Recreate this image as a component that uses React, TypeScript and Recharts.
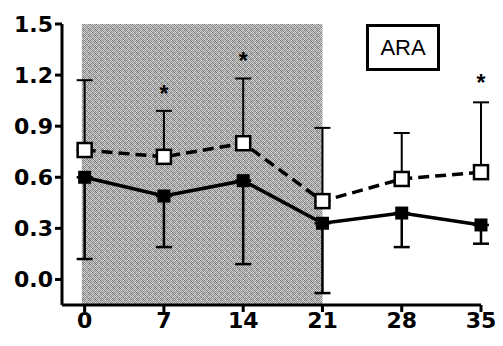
import React from 'react';
import { ComposedChart, Line, Scatter, XAxis, YAxis, ReferenceArea, ErrorBar } from 'recharts';

const days = [0, 7, 14, 21, 28, 35];
const openMean = [0.76, 0.72, 0.8, 0.46, 0.59, 0.63];
const openUpper = [1.17, 0.99, 1.18, 0.89, 0.86, 1.04];
const filledMean = [0.6, 0.49, 0.58, 0.33, 0.39, 0.32];
const filledLower = [0.12, 0.19, 0.09, -0.08, 0.19, 0.21];
const starDays = [7, 14, 35];
const starY = [1.12, 1.31, 1.18];
const yTicks = [0, 0.3, 0.6, 0.9, 1.2, 1.5];

const data = days.map((d, i) => ({
    day: d,
    open: openMean[i],
    openErr: [0, +(openUpper[i] - openMean[i]).toFixed(2)],
    filled: filledMean[i],
    filledErr: [+(filledMean[i] - filledLower[i]).toFixed(2), 0],
}));
const stars = starDays.map((d, i) => ({ day: d, star: starY[i] }));

const tickFont = { fontFamily: '"DejaVu Sans", sans-serif', fontWeight: 'bold', fontSize: 22, fill: '#000' };

// grey noise for the shaded period
const noise = [
    ['#767676', '#d2d2d2', '#989898', '#dcdcdc', '#848484', '#c0c0c0'],
    ['#c8c8c8', '#828282', '#d6d6d6', '#8e8e8e', '#cccccc', '#929292'],
    ['#9c9c9c', '#dadada', '#7c7c7c', '#bcbcbc', '#a0a0a0', '#d4d4d4'],
    ['#cecece', '#949494', '#c4c4c4', '#787878', '#d8d8d8', '#868686'],
    ['#8a8a8a', '#bebebe', '#a2a2a2', '#d0d0d0', '#7e7e7e', '#c2c2c2'],
    ['#d6d6d6', '#868686', '#cacaca', '#9a9a9a', '#bababa', '#727272'],
];

const OpenSquare = (props: any) => {
    const { cx, cy } = props;
    if (cx == null || cy == null) return null;
    return <rect x={cx - 7} y={cy - 7} width={14} height={14} fill="#fff" stroke="#000" strokeWidth={2.5} />;
};

const FilledSquare = (props: any) => {
    const { cx, cy } = props;
    if (cx == null || cy == null) return null;
    return <rect x={cx - 6.5} y={cy - 6.5} width={13} height={13} fill="#000" />;
};

const Star = (props: any) => {
    const { cx, cy } = props;
    return (
        <text x={cx} y={cy + 13} textAnchor="middle" fontSize={23} fontWeight="bold" fontFamily="Liberation Sans, Arial, sans-serif">
            *
        </text>
    );
};

export default function App() {
    return (
        <div style={{ position: 'absolute', left: 0, top: 0, width: 503, height: 346, background: '#fff' }}>
            <ComposedChart width={503} height={346} data={data} margin={{ top: 24, right: 22, bottom: 0, left: 12 }}>
                <defs>
                    <pattern id="grain" width="6" height="6" patternUnits="userSpaceOnUse">
                        {noise.map((row, r) =>
                            row.map((c, k) => <rect key={`${r}-${k}`} x={k} y={r} width={1} height={1} fill={c} />)
                        )}
                    </pattern>
                </defs>
                <XAxis
                    dataKey="day"
                    type="number"
                    domain={[-2, 35]}
                    ticks={days}
                    height={41}
                    axisLine={{ stroke: '#000', strokeWidth: 3 }}
                    tickLine={{ stroke: '#000', strokeWidth: 3 }}
                    tickSize={7}
                    tickMargin={0}
                    tick={tickFont}
                />
                <YAxis
                    type="number"
                    domain={[-0.15, 1.5]}
                    ticks={yTicks}
                    width={50}
                    tickFormatter={(v: number) => v.toFixed(1)}
                    axisLine={{ stroke: '#000', strokeWidth: 3 }}
                    tickLine={{ stroke: '#000', strokeWidth: 3 }}
                    tickSize={7}
                    tickMargin={2}
                    tick={tickFont}
                />
                <ReferenceArea x1={-0.25} x2={21} fill="url(#grain)" fillOpacity={1} stroke="none" />
                <Line
                    dataKey="filled"
                    stroke="#000"
                    strokeWidth={3.5}
                    dot={<FilledSquare />}
                    activeDot={false}
                    isAnimationActive={false}
                >
                    <ErrorBar dataKey="filledErr" width={8} stroke="#000" strokeWidth={2.5} direction="y" />
                </Line>
                <Line
                    dataKey="open"
                    stroke="#000"
                    strokeWidth={3.5}
                    strokeDasharray="11 6"
                    dot={<OpenSquare />}
                    activeDot={false}
                    isAnimationActive={false}
                >
                    <ErrorBar dataKey="openErr" width={8} stroke="#000" strokeWidth={2} direction="y" />
                </Line>
                <Scatter data={stars} dataKey="star" shape={<Star />} isAnimationActive={false} />
            </ComposedChart>
            <div
                style={{
                    position: 'absolute',
                    left: 366,
                    top: 24,
                    width: 68,
                    height: 41,
                    border: '3px solid #000',
                    display: 'flex',
                    alignItems: 'center',
                    justifyContent: 'center',
                    fontFamily: '"Liberation Sans", Arial, sans-serif',
                    fontSize: 22,
                    color: '#000',
                }}
            >
                ARA
            </div>
        </div>
    );
}
